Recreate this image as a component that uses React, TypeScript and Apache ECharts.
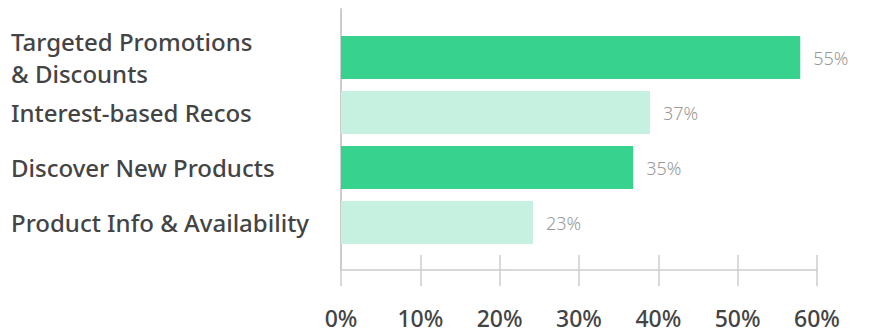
import React, { useEffect, useRef } from "react";
import * as echarts from "echarts";

const categories = [
  "Targeted Promotions\n& Discounts",
  "Interest-based Recos",
  "Discover New Products",
  "Product Info & Availability",
];
const values = [55, 37, 35, 23];
const barColors = ["#38D28F", "#C6F0E0", "#38D28F", "#C6F0E0"];
const tickValues = [0, 10, 20, 30, 40, 50, 60];

export default function App() {
  const ref = useRef<HTMLDivElement>(null);
  useEffect(() => {
    if (!ref.current) return;
    const chart = echarts.init(ref.current, undefined, { renderer: "svg" });
    const font = "'Noto Sans', sans-serif";
    chart.setOption({
      animation: false,
      grid: [
        { left: 341, right: 27, top: 30, bottom: 83 },
        { left: 341, right: 52, top: 9, bottom: 63 },
      ],
      xAxis: [
        { gridIndex: 0, type: "value", min: 0, max: 60, show: false },
        {
          gridIndex: 1,
          type: "value",
          min: tickValues[0],
          max: tickValues[tickValues.length - 1],
          interval: 10,
          axisLine: { show: true, lineStyle: { color: "#cccccc", width: 1.5 } },
          axisTick: { show: true, inside: true, length: 15, lineStyle: { color: "#cccccc", width: 1.5 } },
          splitLine: { show: false },
          axisLabel: {
            formatter: "{value}%",
            color: "#444444",
            fontSize: 23,
            fontWeight: 500,
            fontFamily: font,
            margin: 36,
          },
        },
        {
          gridIndex: 1,
          type: "value",
          position: "bottom",
          min: tickValues[0],
          max: tickValues[tickValues.length - 1],
          interval: 10,
          axisLine: { show: false },
          axisTick: { show: true, inside: false, length: 16, lineStyle: { color: "#cccccc", width: 1.5 } },
          splitLine: { show: false },
          axisLabel: { show: false },
        },
      ],
      yAxis: [
        {
          gridIndex: 0,
          type: "category",
          data: categories,
          inverse: true,
          axisLine: { show: false },
          axisTick: { show: false },
          axisLabel: {
            align: "left",
            margin: 330,
            color: "#444444",
            fontSize: 24,
            fontWeight: 500,
            lineHeight: 32,
            fontFamily: font,
          },
        },
        {
          gridIndex: 1,
          type: "value",
          axisLine: { show: true, lineStyle: { color: "#cccccc", width: 2 } },
          axisTick: { show: false },
          axisLabel: { show: false },
          splitLine: { show: false },
        },
      ],
      series: [
        {
          type: "bar",
          xAxisIndex: 0,
          yAxisIndex: 0,
          barWidth: 43,
          data: values.map((v, i) => ({ value: v, itemStyle: { color: barColors[i] } })),
          label: {
            show: true,
            position: "right",
            distance: 13,
            formatter: "{c}%",
            color: "#999999",
            fontSize: 18,
            fontFamily: font,
            fontWeight: 300,
          },
        },
      ],
    });
    return () => chart.dispose();
  }, []);
  return <div ref={ref} style={{ width: 869, height: 333, position: "absolute", left: 0, top: 0 }} />;
}
